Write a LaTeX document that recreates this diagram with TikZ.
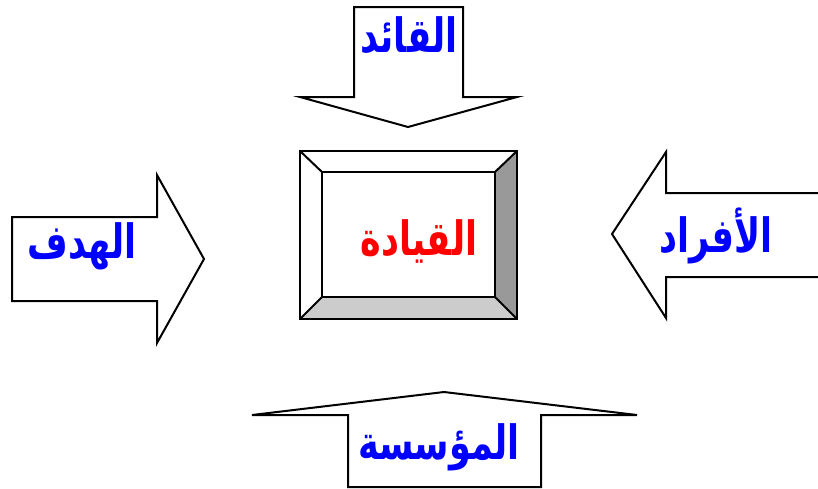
\documentclass[tikz,border=0pt]{standalone}
\usepackage{fontspec}
\usepackage{graphicx}
\TeXXeTstate=1
\newfontfamily\arabicfont[Script=Arabic]{DejaVu Sans}
\definecolor{txtblue}{RGB}{0,0,255}
\definecolor{txtred}{RGB}{255,0,0}
\definecolor{bevdark}{RGB}{153,153,153}
\definecolor{bevlight}{RGB}{204,204,204}
\newcommand{\artext}[1]{\scalebox{1}[1.35]{\beginR #1\endR}}
\tikzset{
  blockarrow/.style={draw=black, fill=white, line width=2pt, line join=miter},
  bevel/.style={draw=black, line width=2pt, line join=miter},
  lbl/.style={font=\arabicfont\bfseries\fontsize{35}{40}\selectfont, text=txtblue, inner sep=0pt},
  centerlbl/.style={lbl, text=txtred}
}
\begin{document}
\begin{tikzpicture}[x=1pt,y=-1pt]
\useasboundingbox (0,0) rectangle (818,488);
% top arrow (القائد)
\draw[blockarrow] (354,7) -- (463,7) -- (463,97) -- (517,97) -- (408,127) -- (300,97) -- (354,97) -- cycle;
% left arrow (الهدف)
\draw[blockarrow] (12,217) -- (157,217) -- (157,175) -- (204,259) -- (157,343) -- (157,301) -- (12,301) -- cycle;
% right arrow (الأفراد)
\draw[blockarrow] (819,193) -- (666,193) -- (666,152) -- (612,234) -- (666,318) -- (666,277) -- (819,277);
% bottom arrow (المؤسسة)
\draw[blockarrow] (348,487) -- (348,415) -- (252,415) -- (444,392) -- (637,415) -- (541,415) -- (541,487) -- cycle;
% center bevel box
\coordinate (o1) at (300,151); \coordinate (o2) at (517,151);
\coordinate (o3) at (517,319); \coordinate (o4) at (300,319);
\coordinate (i1) at (322,172); \coordinate (i2) at (495,172);
\coordinate (i3) at (495,297); \coordinate (i4) at (322,297);
\fill[white] (o1) -- (o2) -- (i2) -- (i1) -- cycle;
\fill[white] (o1) -- (i1) -- (i4) -- (o4) -- cycle;
\fill[bevdark] (o2) -- (o3) -- (i3) -- (i2) -- cycle;
\fill[bevlight] (o4) -- (i4) -- (i3) -- (o3) -- cycle;
\fill[white] (i1) rectangle (i3);
\draw[bevel] (o1) rectangle (o3);
\draw[bevel] (i1) rectangle (i3);
\draw[bevel] (o1) -- (i1) (o2) -- (i2) (o3) -- (i3) (o4) -- (i4);
% labels
\node[lbl] (leader) at (409,35) {\artext{القائد}};
\node[lbl] (goal) at (82,246) {\artext{الهدف}};
\node[lbl] (people) at (716,236) {\artext{الأفراد}};
\node[lbl] (org) at (439,447) {\artext{المؤسسة}};
\node[centerlbl] (leadership) at (419,241) {\artext{القيادة}};
\end{tikzpicture}
\end{document}
